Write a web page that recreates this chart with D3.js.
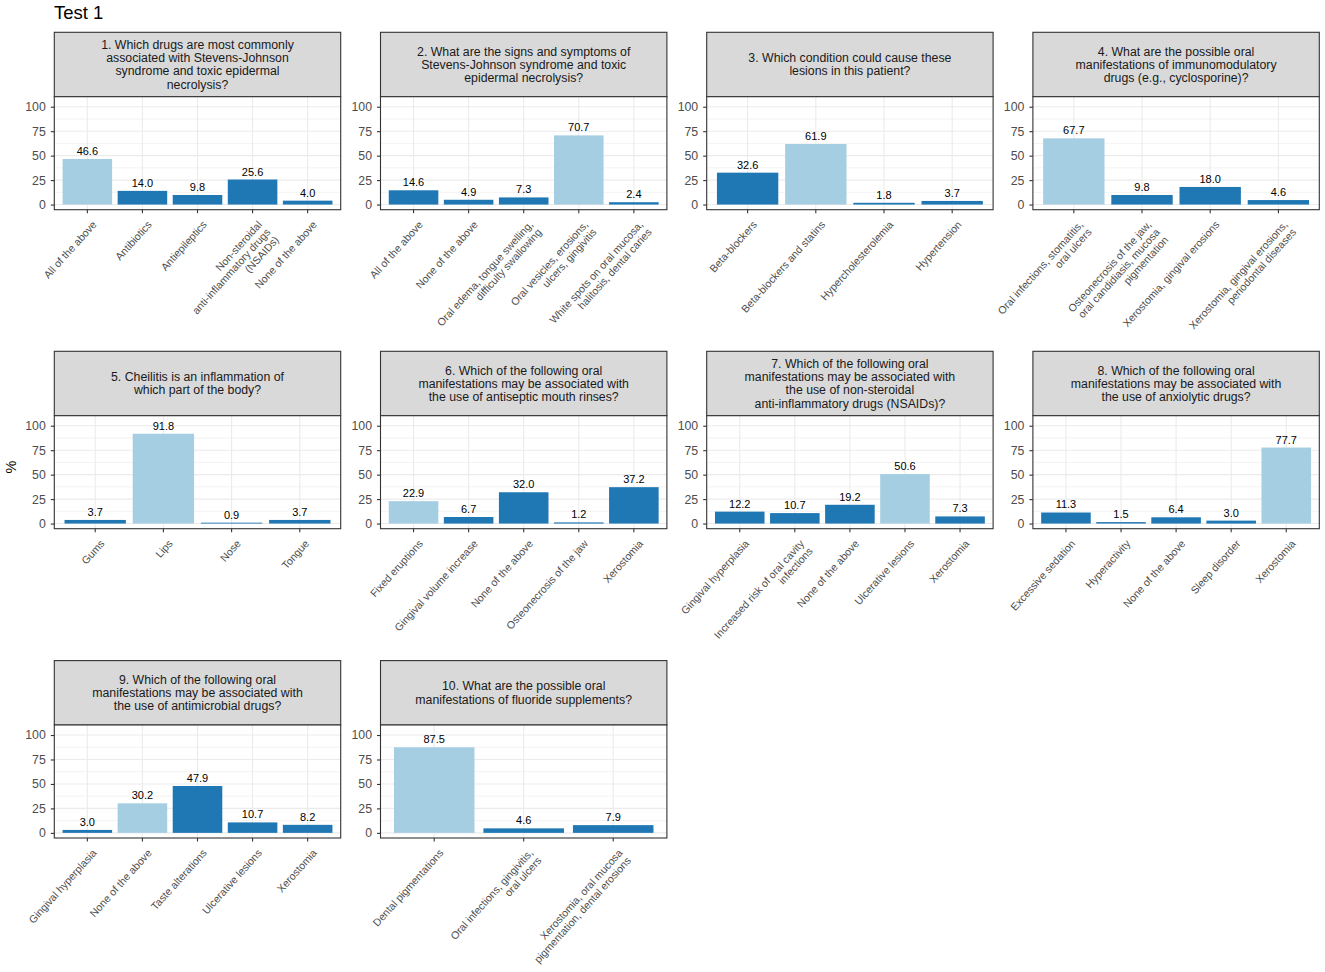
<!DOCTYPE html>
<html>
<head>
<meta charset="utf-8">
<script src="https://cdn.jsdelivr.net/npm/d3@7"></script>
<style>
  body { margin: 0; background: #fff; }
  svg text { font-family: "Liberation Sans", Arial, Helvetica, sans-serif; }
</style>
</head>
<body>
<div id="chart"></div>
<script>
// Strip titles (line breaks as in the original facets)
var questions = [
  "1. Which drugs are most commonly\nassociated with Stevens-Johnson\nsyndrome and toxic epidermal\nnecrolysis?",
  "2. What are the signs and symptoms of\nStevens-Johnson syndrome and toxic\nepidermal necrolysis?",
  "3. Which condition could cause these\nlesions in this patient?",
  "4. What are the possible oral\nmanifestations of immunomodulatory\ndrugs (e.g., cyclosporine)?",
  "5. Cheilitis is an inflammation of\nwhich part of the body?",
  "6. Which of the following oral\nmanifestations may be associated with\nthe use of antiseptic mouth rinses?",
  "7. Which of the following oral\nmanifestations may be associated with\nthe use of non-steroidal\nanti-inflammatory drugs (NSAIDs)?",
  "8. Which of the following oral\nmanifestations may be associated with\nthe use of anxiolytic drugs?",
  "9. Which of the following oral\nmanifestations may be associated with\nthe use of antimicrobial drugs?",
  "10. What are the possible oral\nmanifestations of fluoride supplements?"
];

// Answer options per question
var categories = [
  ["All of the above", "Antibiotics", "Antiepileptics", "Non-steroidal\nanti-inflammatory drugs\n(NSAIDs)", "None of the above"],
  ["All of the above", "None of the above", "Oral edema, tongue swelling,\ndifficulty swallowing", "Oral vesicles, erosions,\nulcers, gingivitis", "White spots on oral mucosa,\nhalitosis, dental caries"],
  ["Beta-blockers", "Beta-blockers and statins", "Hypercholesterolemia", "Hypertension"],
  ["Oral infections, stomatitis,\noral ulcers", "Osteonecrosis of the jaw,\noral candidiasis, mucosa\npigmentation", "Xerostomia, gingival erosions", "Xerostomia, gingival erosions,\nperiodontal diseases"],
  ["Gums", "Lips", "Nose", "Tongue"],
  ["Fixed eruptions", "Gingival volume increase", "None of the above", "Osteonecrosis of the jaw", "Xerostomia"],
  ["Gingival hyperplasia", "Increased risk of oral cavity\ninfections", "None of the above", "Ulcerative lesions", "Xerostomia"],
  ["Excessive sedation", "Hyperactivity", "None of the above", "Sleep disorder", "Xerostomia"],
  ["Gingival hyperplasia", "None of the above", "Taste alterations", "Ulcerative lesions", "Xerostomia"],
  ["Dental pigmentations", "Oral infections, gingivitis,\noral ulcers", "Xerostomia, oral mucosa\npigmentation, dental erosions"]
];

// Percentages per option
var values = [
  [46.6, 14.0, 9.8, 25.6, 4.0],
  [14.6, 4.9, 7.3, 70.7, 2.4],
  [32.6, 61.9, 1.8, 3.7],
  [67.7, 9.8, 18.0, 4.6],
  [3.7, 91.8, 0.9, 3.7],
  [22.9, 6.7, 32.0, 1.2, 37.2],
  [12.2, 10.7, 19.2, 50.6, 7.3],
  [11.3, 1.5, 6.4, 3.0, 77.7],
  [3.0, 30.2, 47.9, 10.7, 8.2],
  [87.5, 4.6, 7.9]
];

// Index of the correct answer (highlighted bar)
var correct = [0, 3, 1, 0, 1, 0, 3, 4, 1, 0];

var yTicks = [0, 25, 50, 75, 100];
var yMinor = [12.5, 37.5, 62.5, 87.5];

var svgWidth = 1325;
var svgHeight = 972;

// facet layout
var colLeft = [54.3, 380.5, 706.7, 1032.9];
var rowTop = [32.3, 351.3, 660.6];
var panelW = 286.4;
var stripH = 64.4;
var panelH = 113;

var colorDark = "#1f78b4";
var colorLight = "#a6cee3";

var svg = d3.select("#chart")
  .append("svg")
  .attr("width", svgWidth)
  .attr("height", svgHeight);

// Title
svg.append("text")
  .attr("x", 54)
  .attr("y", 19)
  .attr("font-size", "18.5px")
  .attr("fill", "#000")
  .text("Test 1");

// Y axis label
svg.append("text")
  .attr("transform", "translate(16, 467) rotate(-90)")
  .attr("text-anchor", "middle")
  .attr("font-size", "14.5px")
  .attr("fill", "#000")
  .text("%");

var y = d3.scaleLinear()
  .domain([-5.25, 110.25])
  .range([panelH, 0]);

questions.forEach(function(q, i) {
  var col = i % 4;
  var row = Math.floor(i / 4);
  var g = svg.append("g")
    .attr("transform", `translate(${colLeft[col]}, ${rowTop[row]})`);

  var data = categories[i].map(function(c, j) {
    return { cat: c, value: values[i][j], hit: j === correct[i] };
  });

  var x = d3.scaleBand()
    .domain(categories[i])
    .range([0, panelW])
    .paddingInner(0.1)
    .paddingOuter(0.15);

  // strip
  g.append("rect")
    .attr("x", 0)
    .attr("y", 0)
    .attr("width", panelW)
    .attr("height", stripH)
    .attr("fill", "#d9d9d9")
    .attr("stroke", "#333333")
    .attr("stroke-width", 1.1);

  var lines = q.split("\n");
  var lineH = 13.3;
  g.append("text")
    .attr("text-anchor", "middle")
    .attr("font-size", "12.3px")
    .attr("fill", "#1a1a1a")
    .selectAll("tspan")
    .data(lines)
    .enter()
    .append("tspan")
    .attr("x", panelW / 2)
    .attr("y", (d, k) => stripH / 2 + (k - (lines.length - 1) / 2) * lineH)
    .attr("dy", "0.35em")
    .text(d => d);

  var panel = g.append("g")
    .attr("transform", `translate(0, ${stripH})`);

  panel.append("rect")
    .attr("width", panelW)
    .attr("height", panelH)
    .attr("fill", "#fff");

  // minor grid
  panel.selectAll(".minor")
    .data(yMinor)
    .enter()
    .append("line")
    .attr("x1", 0)
    .attr("x2", panelW)
    .attr("y1", d => y(d))
    .attr("y2", d => y(d))
    .attr("stroke", "#ebebeb")
    .attr("stroke-width", 0.6);

  // major grid
  panel.selectAll(".major")
    .data(yTicks)
    .enter()
    .append("line")
    .attr("x1", 0)
    .attr("x2", panelW)
    .attr("y1", d => y(d))
    .attr("y2", d => y(d))
    .attr("stroke", "#ebebeb")
    .attr("stroke-width", 1.1);

  panel.selectAll(".vgrid")
    .data(categories[i])
    .enter()
    .append("line")
    .attr("x1", d => x(d) + x.bandwidth() / 2)
    .attr("x2", d => x(d) + x.bandwidth() / 2)
    .attr("y1", 0)
    .attr("y2", panelH)
    .attr("stroke", "#ebebeb")
    .attr("stroke-width", 1.1);

  // bars
  panel.selectAll(".bar")
    .data(data)
    .enter()
    .append("rect")
    .attr("x", d => x(d.cat))
    .attr("width", x.bandwidth())
    .attr("y", d => y(d.value))
    .attr("height", d => y(0) - y(d.value))
    .attr("fill", d => d.hit ? colorLight : colorDark);

  // value labels
  panel.selectAll(".val")
    .data(data)
    .enter()
    .append("text")
    .attr("x", d => x(d.cat) + x.bandwidth() / 2)
    .attr("y", d => y(d.value) - 4)
    .attr("text-anchor", "middle")
    .attr("font-size", "11px")
    .attr("fill", "#000")
    .text(d => d.value.toFixed(1));

  // border
  panel.append("rect")
    .attr("width", panelW)
    .attr("height", panelH)
    .attr("fill", "none")
    .attr("stroke", "#333333")
    .attr("stroke-width", 1.1);

  // y axis
  var yAxis = panel.append("g")
    .call(d3.axisLeft(y).tickValues(yTicks).tickSize(3.5).tickPadding(5));
  yAxis.select(".domain").remove();
  yAxis.selectAll("line").attr("stroke", "#333333").attr("stroke-width", 1.1);
  yAxis.selectAll("text")
    .attr("font-size", "12.3px")
    .attr("fill", "#4d4d4d")
    .style("font-family", "'Liberation Sans', Arial, sans-serif");

  // x ticks
  panel.selectAll(".xtick")
    .data(categories[i])
    .enter()
    .append("line")
    .attr("x1", d => x(d) + x.bandwidth() / 2)
    .attr("x2", d => x(d) + x.bandwidth() / 2)
    .attr("y1", panelH)
    .attr("y2", panelH + 3.5)
    .attr("stroke", "#333333")
    .attr("stroke-width", 1.1);

  // x labels, rotated, right-aligned
  var xl = panel.selectAll(".xlab")
    .data(categories[i])
    .enter()
    .append("text")
    .attr("transform", d => `translate(${x(d) + x.bandwidth() / 2 + 4}, ${panelH + 10}) rotate(-48)`)
    .attr("text-anchor", "end")
    .attr("font-size", "10.6px")
    .attr("fill", "#4d4d4d");

  xl.each(function(d) {
    var parts = d.split("\n");
    d3.select(this).selectAll("tspan")
      .data(parts)
      .enter()
      .append("tspan")
      .attr("x", 0)
      .attr("y", (p, k) => k * 11.4)
      .attr("dy", "0.75em")
      .text(p => p);
  });
});
</script>
</body>
</html>
